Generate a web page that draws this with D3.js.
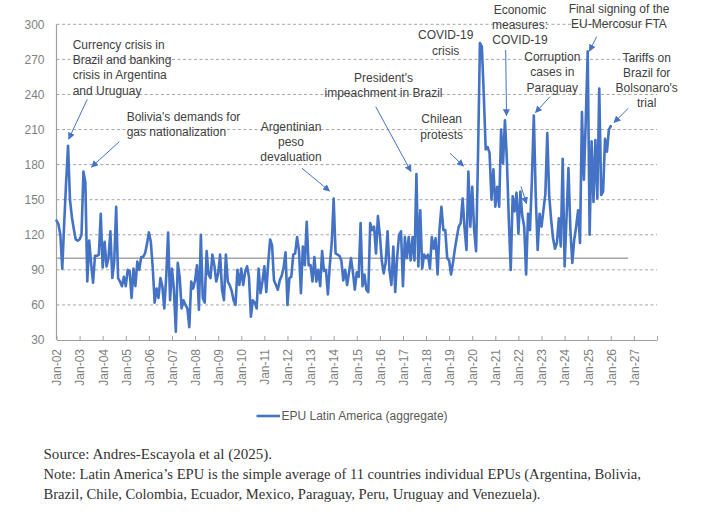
<!DOCTYPE html>
<html><head><meta charset="utf-8">
<script src="https://cdn.jsdelivr.net/npm/d3@7"></script>
<style>
body{margin:0;background:#fff}
svg{display:block}
</style>
</head><body>
<svg id="chart" width="710" height="512"></svg>
<script>
// ---------- data ----------
const startYear = 2002; // first month: Jan 2002, monthly observations
const epuValues = [
  // 2002
  132,129,120,91,130,165,196,150,135,125,116,115,
  // 2003
  116,120,174,165,80,115,95,79,102,102,103,138,
  // 2004
  92,114,93,100,123,83,97,144,83,80,76,84,
  // 2005
  76,90,89,66,91,76,97,90,101,101,104,112,
  // 2006
  122,114,92,62,74,66,83,76,57,84,122,64,
  // 2007
  91,73,37,96,84,57,64,60,57,41,80,74,
  // 2008
  81,94,56,120,66,62,106,86,83,103,94,80,
  // 2009
  87,103,73,64,103,80,77,72,64,60,90,77,
  // 2010
  91,77,88,93,84,50,64,62,57,91,70,80,
  // 2011
  93,71,96,116,111,81,77,73,81,85,92,105,
  // 2012
  60,83,84,103,104,118,106,70,110,94,131,94,
  // 2013
  94,80,101,80,90,76,106,89,90,69,94,113,
  // 2014
  151,104,103,102,98,81,90,77,88,100,88,73,
  // 2015
  88,84,130,76,86,73,71,130,124,127,104,136,
  // 2016
  120,98,87,96,123,90,77,110,71,101,120,123,
  // 2017
  76,118,100,118,98,118,98,172,93,141,91,103,
  // 2018
  100,103,91,118,108,117,86,125,144,124,124,100,
  // 2019
  98,86,96,108,118,127,130,151,126,107,174,127,
  // 2020
  161,124,106,187,284,281,240,193,195,190,150,176,
  // 2021
  144,161,144,210,181,218,184,133,90,153,140,156,
  // 2022
  121,157,136,127,86,138,124,167,222,153,107,138,
  // 2023
  127,141,155,207,153,133,117,108,113,134,110,185,
  // 2024
  93,135,177,124,96,116,127,141,113,225,167,218,
  // 2025
  277,120,200,148,201,151,245,154,157,202,191,210,
  // 2026
  213
];
const xTickLabels = ["Jan-02","Jan-03","Jan-04","Jan-05","Jan-06","Jan-07","Jan-08","Jan-09",
  "Jan-10","Jan-11","Jan-12","Jan-13","Jan-14","Jan-15","Jan-16","Jan-17","Jan-18","Jan-19",
  "Jan-20","Jan-21","Jan-22","Jan-23","Jan-24","Jan-25","Jan-26","Jan-27",""];
const yTickValues = [30,60,90,120,150,180,210,240,270,300];
const referenceLevel = 100;
const referenceEndMonth = 297;
const seriesName = "EPU Latin America (aggregate)";
const sourceLines = [
  "Source: Andres-Escayola et al (2025).",
  "Note: Latin America\u2019s EPU is the simple average of 11 countries individual EPUs (Argentina, Bolivia,",
  "Brazil, Chile, Colombia, Ecuador, Mexico, Paraguay, Peru, Uruguay and Venezuela)."
];
const annotationTexts = [
  ["Currency crisis in","Brazil and banking","crisis in Argentina","and Uruguay"],
  ["Bolivia's demands for","gas nationalization"],
  ["Argentinian","peso","devaluation"],
  ["President's","impeachment in Brazil"],
  ["COVID-19","crisis"],
  ["Economic","measures:","COVID-19"],
  ["Chilean","protests"],
  ["Corruption","cases in","Paraguay"],
  ["Final signing of the","EU-Mercosur FTA"],
  ["Tariffs on","Brazil for","Bolsonaro's","trial"]
];

// ---------- layout ----------
const annotationLayout = [
  {x:72.7, anchor:"start", y0:44.3, step:15.3, arrow:[87.3,99.3,68.7,139]},
  {x:126.7, anchor:"start", y0:116.7, step:15, arrow:[119.3,141.7,91.5,167]},
  {x:291, anchor:"middle", y0:126.7, step:15, arrow:[302,168.3,329.5,191]},
  {x:383.5, anchor:"middle", y0:77.7, step:15, arrow:[375.7,106.7,411,171.5]},
  {x:445.7, anchor:"middle", y0:35, step:16, arrow:null},
  {x:520, anchor:"middle", y0:9.3, step:15.3, arrow:[505.7,50,506.5,115.5]},
  {x:441.7, anchor:"middle", y0:119, step:16, arrow:[450,153.3,463.5,166]},
  {x:552.3, anchor:"middle", y0:56.7, step:15.3, arrow:[550,96.7,535.5,112.5]},
  {x:619, anchor:"middle", y0:9, step:15, arrow:[596.7,36.7,589.5,51]},
  {x:646.7, anchor:"middle", y0:57.7, step:15, arrow:[628.3,108.3,614,122.5]}
];
const extraArrow = [521,186.5,526.5,203.5];

const lineColor = "#4472C4";
const textColor = "#404040";
const axisTextColor = "#7f7f7f";
const font = "'Liberation Sans', Arial, Helvetica, sans-serif";

const svg = d3.select("#chart");
svg.append("rect").attr("width",710).attr("height",512).attr("fill","#fff");

const lastMonth = 312;
const x = d3.scaleLinear().domain([0, lastMonth]).range([56.5, 657]);
const y = d3.scaleLinear().domain([30, 300]).range([340, 24.3]);

// gridlines
svg.append("g").selectAll("line")
  .data(yTickValues.filter(v => v !== 30))
  .join("line")
  .attr("x1", x(0)).attr("x2", x(lastMonth))
  .attr("y1", d => y(d)).attr("y2", d => y(d))
  .attr("stroke", "#a6a6a6").attr("stroke-width", 1)
  .attr("stroke-dasharray", "3,2.5");

// reference line at 100
svg.append("line")
  .attr("x1", x(0)).attr("x2", x(referenceEndMonth))
  .attr("y1", y(referenceLevel)).attr("y2", y(referenceLevel))
  .attr("stroke", "#a6a6a6").attr("stroke-width", 1.5);

// y axis
svg.append("line")
  .attr("x1", x(0)).attr("x2", x(0))
  .attr("y1", y(30)).attr("y2", y(300))
  .attr("stroke", "#a0a0a0").attr("stroke-width", 1.2);
svg.append("g").selectAll("text")
  .data(yTickValues).join("text")
  .attr("x", 44.5).attr("y", d => y(d)).attr("dy", "0.36em")
  .attr("text-anchor", "end")
  .attr("font-family", font).attr("font-size", 12)
  .attr("fill", axisTextColor)
  .text(d => d);

// x axis
const xAxis = d3.axisBottom(x)
  .tickValues(d3.range(0, lastMonth + 1, 12))
  .tickSize(-4)
  .tickSizeOuter(0)
  .tickFormat((d, i) => xTickLabels[i]);
const gx = svg.append("g").attr("transform", `translate(0,${y(30)})`).call(xAxis);
gx.select(".domain").attr("stroke", "#a0a0a0").attr("stroke-width", 1.2);
gx.selectAll(".tick line").attr("stroke", "#a0a0a0");
gx.selectAll(".tick text")
  .attr("transform", "rotate(-90)")
  .attr("x", -9).attr("y", 0).attr("dy", "0.36em")
  .attr("text-anchor", "end")
  .attr("font-family", font).attr("font-size", 12)
  .attr("fill", axisTextColor);

// series line
const line = d3.line().x((d, i) => x(i)).y(d => y(d)).curve(d3.curveLinear);
svg.append("path")
  .datum(epuValues)
  .attr("d", line)
  .attr("fill", "none")
  .attr("stroke", lineColor)
  .attr("stroke-width", 2.6)
  .attr("stroke-linejoin", "round")
  .attr("stroke-linecap", "round");

// arrowheads
const defs = svg.append("defs");
defs.append("marker")
  .attr("id", "ah").attr("viewBox", "0 0 10 10")
  .attr("refX", 9).attr("refY", 5)
  .attr("markerWidth", 7).attr("markerHeight", 7)
  .attr("markerUnits", "userSpaceOnUse")
  .attr("orient", "auto")
  .append("path").attr("d", "M0,0 L10,5 L0,10 z").attr("fill", lineColor);

// annotations
annotationTexts.forEach((lines, k) => {
  const L = annotationLayout[k];
  const t = svg.append("text")
    .attr("font-family", font).attr("font-size", 12)
    .attr("fill", textColor).attr("text-anchor", L.anchor);
  lines.forEach((s, j) => {
    t.append("tspan").attr("x", L.x).attr("y", L.y0 + j * L.step).attr("dy", "0.36em").text(s);
  });
  if (L.arrow) {
    svg.append("line")
      .attr("x1", L.arrow[0]).attr("y1", L.arrow[1])
      .attr("x2", L.arrow[2]).attr("y2", L.arrow[3])
      .attr("stroke", lineColor).attr("stroke-width", 1)
      .attr("marker-end", "url(#ah)");
  }
});
svg.append("line")
  .attr("x1", extraArrow[0]).attr("y1", extraArrow[1])
  .attr("x2", extraArrow[2]).attr("y2", extraArrow[3])
  .attr("stroke", lineColor).attr("stroke-width", 1)
  .attr("marker-end", "url(#ah)");

// legend
svg.append("line")
  .attr("x1", 256.5).attr("x2", 280).attr("y1", 416).attr("y2", 416)
  .attr("stroke", lineColor).attr("stroke-width", 2.6);
svg.append("text")
  .attr("x", 281.5).attr("y", 416).attr("dy", "0.36em")
  .attr("font-family", font).attr("font-size", 12)
  .attr("fill", "#595959")
  .text(seriesName);

// source / note
const srcWidths = [228.5, 597.5, 497];
svg.append("g").selectAll("text")
  .data(sourceLines).join("text")
  .attr("x", 43.5).attr("y", (d, i) => 458.5 + i * 20)
  .attr("font-family", "'Liberation Serif', 'DejaVu Serif', serif")
  .attr("font-size", 15)
  .attr("fill", "#333333")
  .attr("textLength", (d, i) => srcWidths[i])
  .attr("lengthAdjust", "spacingAndGlyphs")
  .text(d => d);
</script>
</body></html>
